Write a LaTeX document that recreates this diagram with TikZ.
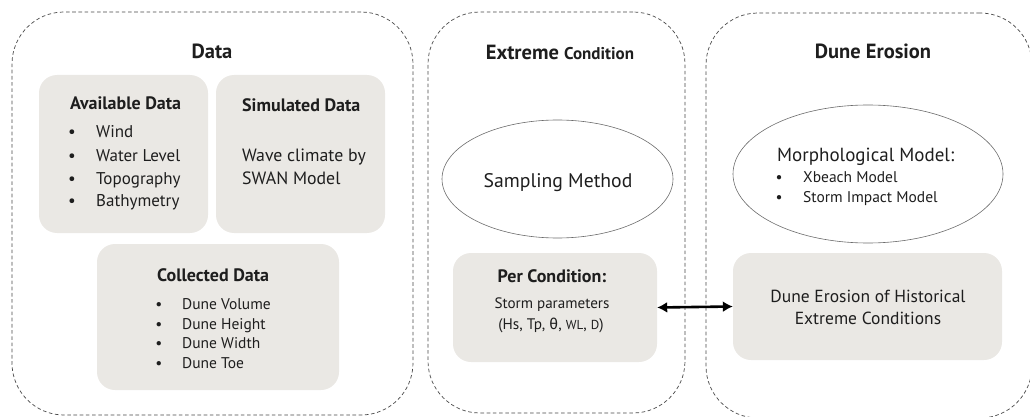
\documentclass[tikz,border=0pt]{standalone}
\usepackage{fontspec}
\setmainfont{PT Sans}
\newfontfamily\greekfont{Fira Sans}
\usetikzlibrary{shapes.geometric,arrows.meta}
\definecolor{cardfill}{RGB}{234,232,228}
\definecolor{panelline}{RGB}{70,70,70}
\definecolor{ink}{RGB}{30,30,30}
\newcommand{\fs}[1]{\fontsize{#1}{#1}\selectfont}
\tikzset{
  panel/.style={draw=panelline, line width=0.7pt, dash pattern=on 3.6pt off 2.6pt,
                rounded corners=52pt, inner sep=0},
  card/.style={fill=cardfill, rounded corners=18pt, inner sep=0},
  oval/.style={ellipse, draw=panelline!80, line width=0.6pt, inner sep=0},
  lbl/.style={inner sep=0, text=ink},
  ttl/.style={lbl, anchor=base, font=\bfseries\fs{20.5}},
  sub/.style={lbl, anchor=base west, font=\bfseries\fs{18}},
  txt/.style={lbl, anchor=base west, font=\fs{17}},
  sml/.style={lbl, anchor=base west, font=\fs{15.5}},
  dot/.style={lbl, anchor=base, font=\fs{17}},
  link/.style={line width=2.6pt, {Latex[length=10pt,width=11pt]}-{Latex[length=10pt,width=11pt]}}
}
\begin{document}
\begin{tikzpicture}[x=1pt,y=-1pt]
\useasboundingbox (0,0) rectangle (1030,417);
\clip (0,0) rectangle (1030,417);

% dashed panels
\node[panel, minimum width=401pt, minimum height=403pt] (pdata) at (212.5,213.5) {};
\node[panel, minimum width=257pt, minimum height=401pt] (pext)  at (556.5,212.5) {};
\node[panel, minimum width=326pt, minimum height=405pt] (pdune) at (869,215.5) {};

% panel titles
\node[ttl] (tdata) at (212,59) {Data};
\node[ttl] (text)  at (560,60) {Extreme {\fs{17}Condition}};
\node[ttl] (tdune) at (873,59) {Dune Erosion};

% --- Data panel -------------------------------------------------
\node[card, minimum width=169pt, minimum height=158pt] (avail) at (123.5,154) {};
\node[card, minimum width=169pt, minimum height=158pt] (simul) at (300.5,154) {};
\node[card, minimum width=242pt, minimum height=146pt] (coll)  at (218,317) {};

\node[sub] (availT) at (70,110) {Available Data};
\foreach \t/\yy/\n in {Wind/138/1, Water Level/161/2, Topography/184/3, Bathymetry/206/4}{
  \node[dot] (ab\n) at (72,\yy) {•};
  \node[txt] (av\n) at (96,\yy) {\t};
}

\node[sub] (simulT) at (242,112) {Simulated Data};
\node[txt, font=\fs{17.8}] (sim1) at (242,161) {Wave climate by};
\node[txt, font=\fs{17.8}] (sim2) at (242,184) {SWAN Model};

\node[sub] (collT) at (157,281) {Collected Data};
\foreach \t/\yy/\n in {Dune Volume/309/1, Dune Height/329/2, Dune Width/348/3, Dune Toe/368/4}{
  \node[dot, font=\fs{15.5}] (cb\n) at (159,\yy) {•};
  \node[sml] (co\n) at (182,\yy) {\t};
}

% --- Extreme Condition panel ------------------------------------
\node[oval, minimum width=231pt, minimum height=118pt] (samp) at (557.5,179) {};
\node[lbl, anchor=base, font=\fs{19.7}] (sampT) at (558,187) {Sampling Method};

\node[card, minimum width=204pt, minimum height=109pt] (per) at (555,307.5) {};
\node[lbl, anchor=base, font=\bfseries\fs{18}] (perT) at (552,282) {Per Condition:};
\node[lbl, anchor=base, font=\fs{15.1}] (per1) at (552,308) {Storm parameters};
\node[lbl, anchor=base, font=\fs{15.3}] (per2) at (551,329)
  {(Hs, Tp, {\greekfont θ}, {\fs{13}WL}, {\fs{13}D})};

% --- Dune Erosion panel -----------------------------------------
\node[oval, minimum width=270pt, minimum height=138pt] (morph) at (868,174) {};
\node[lbl, anchor=base west, font=\fs{19}] (morphT) at (777,161) {Morphological Model:};
\node[dot, font=\fs{15.5}] (mb1) at (779,182) {•};
\node[sml] (mo1) at (803,182) {Xbeach Model};
\node[dot, font=\fs{15.5}] (mb2) at (779,202) {•};
\node[sml] (mo2) at (803,202) {Storm Impact Model};

\node[card, minimum width=269pt, minimum height=107pt] (hist) at (867.5,306.5) {};
\node[lbl, anchor=base, font=\fs{17.5}] (hist1) at (868,302) {Dune Erosion of Historical};
\node[lbl, anchor=base, font=\fs{17.5}] (hist2) at (868,324) {Extreme Conditions};

% link between condition and erosion result
\draw[link] (per.east) -- (hist.west);
\end{tikzpicture}
\end{document}
